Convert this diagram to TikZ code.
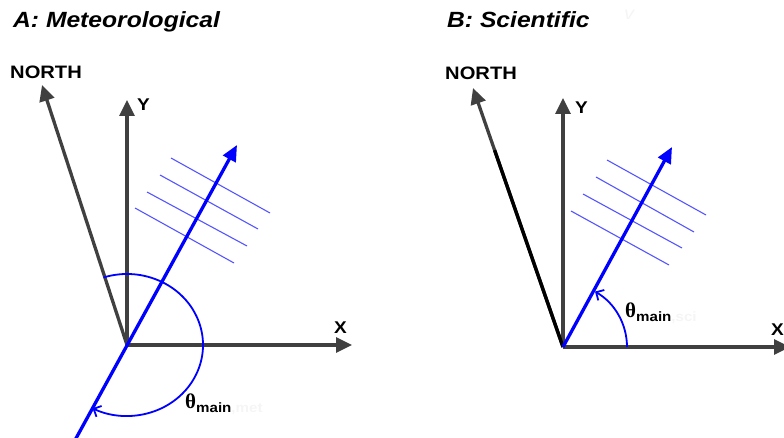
\documentclass[tikz,border=0pt]{standalone}
\usepackage{fontspec}
\setmainfont[FakeStretch=1.12]{Liberation Sans}
\newfontfamily\thetafont{Liberation Serif}
\usetikzlibrary{arrows.meta,calc}
\definecolor{axgray}{RGB}{64,64,64}
\definecolor{mblue}{RGB}{0,0,255}
\definecolor{hblue}{RGB}{85,85,255}
\definecolor{faint}{RGB}{245,245,245}
\begin{document}
\begin{tikzpicture}[x=1pt,y=-1pt,
  axis/.style={draw=axgray, line width=3.3pt, -{Triangle[length=16pt,width=15pt]}},
  mainline/.style={draw=mblue, line width=3.3pt, -{Triangle[length=16pt,width=14pt]}},
  hatch/.style={draw=hblue, line width=1.1pt},
  anglearc/.style={draw=mblue, line width=1.8pt, -{Straight Barb[length=6pt,width=12pt,line width=1.8pt]}},
  title/.style={anchor=base west, inner sep=0pt, font=\fontsize{22}{26}\selectfont\bfseries\itshape},
  axlabel/.style={anchor=base west, inner sep=0pt, font=\fontsize{17}{20}\selectfont\bfseries},
  northlabel/.style={anchor=base west, inner sep=0pt, font=\fontsize{18}{21}\selectfont\bfseries},
  thlabel/.style={anchor=base west, inner sep=0pt},
]
\useasboundingbox (0,0) rectangle (784,438);
\newcommand{\thetamain}[1]{{\thetafont\bfseries\fontsize{21}{24}\selectfont θ}\raisebox{-4pt}{\fontsize{13.5}{15}\selectfont\bfseries main\textcolor{faint}{#1}}}

% ---------- Panel A ----------
\node[title] (titleA) at (13,28) {A: Meteorological};
\coordinate (Ao) at (127,345);
\coordinate (Ay) at (127,100);
\coordinate (Ax) at (352,345);
\coordinate (An) at (42,85);
\coordinate (Atip) at (237,145);
\coordinate (Abot) at (74,442);

\draw[hatch] (171,158) coordinate (ah1a) -- (270,213) coordinate (ah1b);
\draw[hatch] (160,175) coordinate (ah2a) -- (258,229) coordinate (ah2b);
\draw[hatch] (147,192) coordinate (ah3a) -- (247,246) coordinate (ah3b);
\draw[hatch] (135,208) coordinate (ah4a) -- (234,263) coordinate (ah4b);

\draw[axis] (Ao) -- (Ay);
\draw[axis] (Ao) -- (Ax);
\draw[axis] (Ao) -- (An);
\draw[mainline] (Abot) -- (Atip);
\draw[anglearc] (Ao) ++(-108:76 and 71) arc[start angle=-108, end angle=117, x radius=76, y radius=71];

\node[northlabel] (nA) at (10,79) {NORTH};
\node[axlabel] (yA) at (137,111) {Y};
\node[axlabel] (xA) at (334,333) {X};
\node[thlabel] (thA) at (185,408) {\thetamain{,met}};

% ---------- Panel B ----------
\node[title] (titleB) at (447,28) {B: Scientific};
\node[anchor=base west, inner sep=0pt, text=faint, font=\fontsize{18}{21}\selectfont\itshape] (vB) at (624,20) {v};
\coordinate (Bo) at (563,347);
\coordinate (By) at (563,98);
\coordinate (Bx) at (790,347);
\coordinate (Bn) at (473,88);
\coordinate (Btip) at (672,147);

\draw[hatch] (607,160) coordinate (bh1a) -- (706,215) coordinate (bh1b);
\draw[hatch] (596,177) coordinate (bh2a) -- (694,232) coordinate (bh2b);
\draw[hatch] (583,194) coordinate (bh3a) -- (682,248) coordinate (bh3b);
\draw[hatch] (571,211) coordinate (bh4a) -- (669,265) coordinate (bh4b);

\draw[axis] (Bo) -- (By);
\draw[axis] (Bo) -- (Bx);
\draw[axis] (Bo) -- (Bn);
\draw[draw=black, line width=3.4pt] (Bo) -- ($(Bo)!0.76!(Bn)$);
\draw[mainline] (Bo) -- (Btip);
\draw[anglearc] (Bo) ++(0:64) arc[start angle=0, end angle=-60, radius=64];

\node[northlabel] (nB) at (445,80) {NORTH};
\node[axlabel] (yB) at (575,114) {Y};
\node[axlabel] (xB) at (771,335) {X};
\node[thlabel] (thB) at (625,317) {\thetamain{,sci}};
\end{tikzpicture}
\end{document}
